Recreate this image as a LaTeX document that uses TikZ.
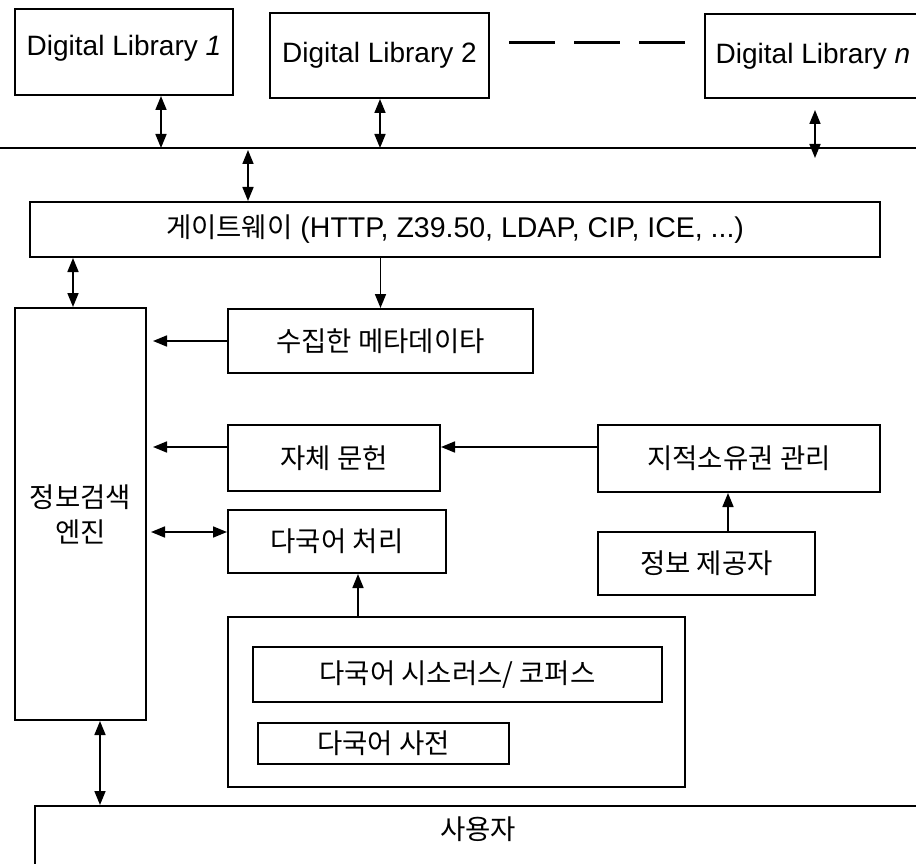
\documentclass[tikz,border=0pt]{standalone}
\usepackage{fontspec}
\setmainfont{Liberation Sans}
\newfontfamily\krfont{Noto Sans CJK KR}
\usetikzlibrary{arrows.meta}
\newcommand\latsz{\fontsize{28}{34}\selectfont}
\newcommand\krsz{\krfont\fontsize{27.5}{35}\selectfont}
\begin{document}
\begin{tikzpicture}[x=1pt,y=-1pt,
  box/.style={draw, line width=2pt, inner sep=0pt, align=center},
  kr/.style={font=\krsz},
  tip/.tip={Triangle[length=14pt,width=11pt]},
  ar/.style={-tip, line width=1.7pt},
  dar/.style={tip-tip, line width=1.7pt}]
\clip (0,0) rectangle (916,864);
\fill[white] (0,0) rectangle (916,864);

% digital libraries
\node[box, anchor=north, minimum width=218pt, text height=47pt, text depth=39pt] (dl1) at (124,8) {\latsz Digital Library \textit{1}};
\node[box, anchor=north, minimum width=219pt, text height=50pt, text depth=35pt] (dl2) at (379.5,12) {\latsz Digital Library 2};
\node[box, anchor=north, minimum width=216pt, text height=50pt, text depth=34pt] (dln) at (813,13) {\latsz Digital Library \textit{n}};

% bus
\coordinate (busL) at (0,148);
\coordinate (busR) at (916,148);
\draw[line width=2.6pt] (busL) -- (busR);

% gateway
\node[box, minimum width=850pt, minimum height=55pt] (gw) at (455,229.5) {\fontsize{28.5}{34}\selectfont{\krsz 게이트웨이} (HTTP, Z39.50, LDAP, CIP, ICE, ...)};

% engine
\node[box, kr, minimum width=131pt, minimum height=412pt] (eng) at (80.5,514) {정보검색\\엔진};

% middle column
\node[box, kr, minimum width=305pt, minimum height=64pt] (meta) at (380.5,341) {수집한 메타데이타};
\node[box, kr, minimum width=212pt, minimum height=66pt] (own) at (334,458) {자체 문헌};
\node[box, kr, minimum width=282pt, minimum height=67pt] (ipr) at (739,458.5) {지적소유권 관리};
\node[box, kr, minimum width=218pt, minimum height=63pt] (mlp) at (337,541.5) {다국어 처리};
\node[box, kr, minimum width=217pt, minimum height=63pt] (prov) at (706.5,563.5) {정보 제공자};

% language resources
\node[box, minimum width=457pt, minimum height=170pt] (res) at (456.5,702) {};
\node[box, kr, minimum width=409pt, minimum height=55pt] (thes) at (457.5,674.5) {다국어 시소러스/ 코퍼스};
\node[box, kr, minimum width=251pt, minimum height=41pt] (dict) at (383.5,743.5) {다국어 사전};

% user
\node[box, kr, anchor=north, minimum width=886pt, text height=33pt, text depth=45pt] (user) at (478,805) {사용자};

% helper coordinates
\coordinate (b1) at (161,148);
\coordinate (b2) at (380,148);
\coordinate (bnTop) at (815,110);
\coordinate (bnBot) at (815,158);
\coordinate (bg) at (248,150);
\coordinate (xe) at (73,0);
\coordinate (yo) at (0,447);
\coordinate (ym) at (0,532);
\coordinate (xp) at (728,0);
\coordinate (xr) at (358,0);
\coordinate (xu) at (100,0);
\coordinate (yd) at (0,43);

% connectors
\draw[line width=3pt, dash pattern=on 46pt off 19pt, shorten <=19pt, shorten >=19pt] (dl2.east |- yd) -- (dln.west |- yd);
\draw[dar] (dl1.south -| b1) -- (b1);
\draw[dar] (dl2.south -| b2) -- (b2);
\draw[dar] (bnTop) -- (bnBot);
\draw[dar] (bg) -- (bg |- gw.north);
\draw[dar] (gw.south -| xe) -- (eng.north -| xe);
\draw[ar] (gw.south -| meta.north) -- (meta.north);
\draw[ar, shorten >=6pt] (meta.west) -- (meta.west -| eng.east);
\draw[ar, shorten >=6pt] (own.west |- yo) -- (eng.east |- yo);
\draw[ar] (ipr.west |- yo) -- (own.east |- yo);
\draw[dar, shorten <=4pt] (eng.east |- ym) -- (mlp.west |- ym);
\draw[ar] (prov.north -| xp) -- (ipr.south -| xp);
\draw[ar] (res.north -| xr) -- (mlp.south -| xr);
\draw[dar] (eng.south -| xu) -- (user.north -| xu);
\end{tikzpicture}
\end{document}
